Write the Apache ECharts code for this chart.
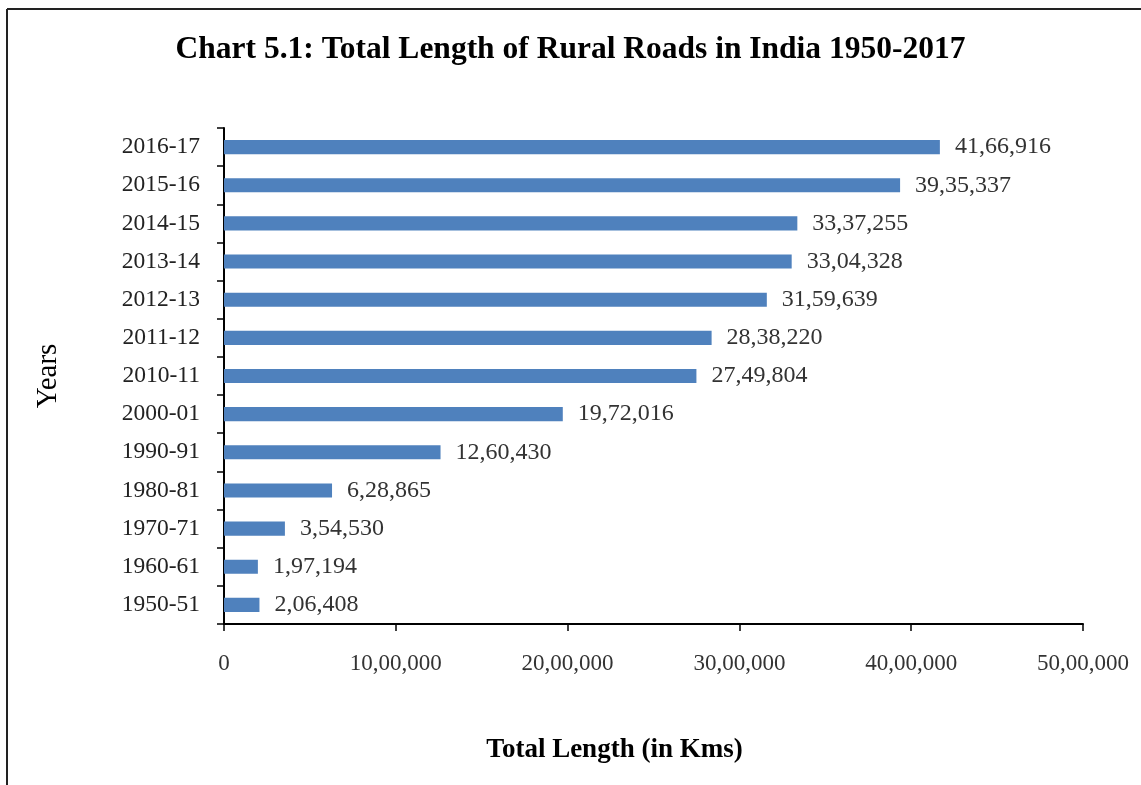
<!DOCTYPE html>
<html>
<head>
<meta charset="utf-8">
<title>Rural Roads in India</title>
<script src="https://cdn.jsdelivr.net/npm/echarts@6/dist/echarts.min.js"></script>
<style>
  html, body { margin: 0; padding: 0; background: #fff; }
  #chart { width: 1141px; height: 785px; }
</style>
</head>
<body>
<div id="chart"></div>
<script>
// years, bottom to top
const years = ['1950-51', '1960-61', '1970-71', '1980-81', '1990-91', '2000-01',
  '2010-11', '2011-12', '2012-13', '2013-14', '2014-15', '2015-16', '2016-17']
const roadLength = [206408, 197194, 354530, 628865, 1260430, 1972016,
  2749804, 2838220, 3159639, 3304328, 3337255, 3935337, 4166916]
const xTicks = [0, 1000000, 2000000, 3000000, 4000000, 5000000]

const serif = '"Liberation Serif", "Times New Roman", serif'

// 41,66,916 style grouping
function indian(n) {
  const s = String(Math.round(n))
  if (s.length <= 3) return s
  const last3 = s.slice(-3)
  const rest = s.slice(0, -3).replace(/\B(?=(\d{2})+(?!\d))/g, ',')
  return rest + ',' + last3
}

const chart = echarts.init(document.getElementById('chart'))
chart.setOption({
  animation: false,
  textStyle: { fontFamily: serif },
  title: {
    text: 'Chart 5.1: Total Length of Rural Roads in India 1950-2017',
    left: 'center',
    top: 29,
    padding: [5, 5, 5, 23],
    textStyle: { fontFamily: serif, fontSize: 31.5, fontWeight: 'bold', color: '#000' }
  },
  grid: { left: 224, right: 58, top: 128, bottom: 161 },
  xAxis: {
    type: 'value',
    min: xTicks[0],
    max: xTicks[xTicks.length - 1],
    interval: xTicks[1] - xTicks[0],
    name: 'Total Length (in Kms)',
    nameLocation: 'middle',
    nameGap: 113,
    nameTextStyle: {
      fontFamily: serif, fontSize: 27, fontWeight: 'bold', color: '#000',
      padding: [0, 78, 0, 0]
    },
    axisLine: { show: true, lineStyle: { color: '#000', width: 2 } },
    axisTick: { show: true, length: 7, lineStyle: { color: '#000', width: 1.5 } },
    axisLabel: {
      margin: 28,
      fontFamily: serif, fontSize: 23, color: '#333',
      formatter: v => indian(v)
    },
    splitLine: { show: false }
  },
  yAxis: {
    type: 'category',
    data: years,
    name: 'Years',
    nameLocation: 'middle',
    nameRotate: 90,
    nameGap: 161,
    nameTextStyle: { fontFamily: serif, fontSize: 29, color: '#000' },
    axisLine: { show: true, lineStyle: { color: '#000', width: 2 } },
    axisTick: { show: true, length: 7, lineStyle: { color: '#000', width: 1.5 } },
    axisLabel: { margin: 24, fontFamily: serif, fontSize: 23.5, color: '#222' }
  },
  series: [{
    type: 'bar',
    data: roadLength,
    barWidth: '37%',
    itemStyle: { color: '#4F81BD' },
    label: {
      show: true,
      position: 'right',
      distance: 15,
      fontFamily: serif,
      fontSize: 24,
      color: '#333',
      formatter: p => indian(p.value)
    }
  }],
  graphic: [
    { type: 'line', shape: { x1: 7, y1: 9, x2: 1141, y2: 9 }, style: { stroke: '#222', lineWidth: 2 } },
    { type: 'line', shape: { x1: 7, y1: 9, x2: 7, y2: 785 }, style: { stroke: '#222', lineWidth: 2 } }
  ]
})
</script>
</body>
</html>
